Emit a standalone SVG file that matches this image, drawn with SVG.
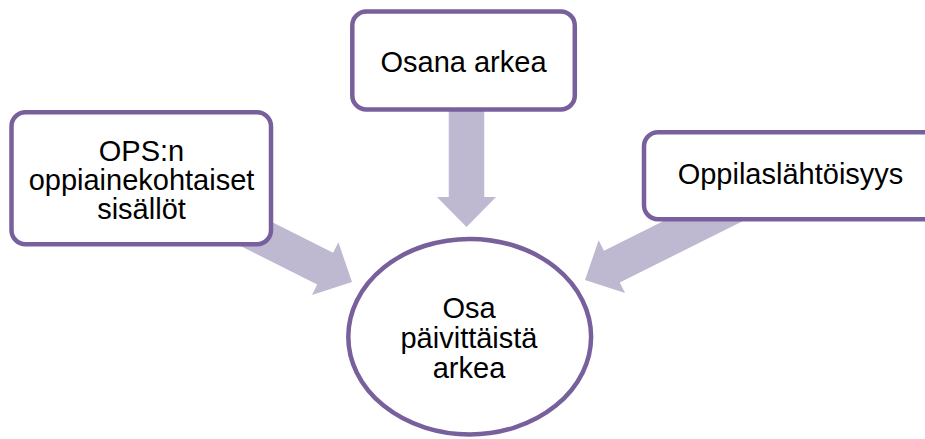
<svg xmlns="http://www.w3.org/2000/svg" width="925" height="439" viewBox="0 0 925 439">
  <defs>
    <style>
      .node { fill: #ffffff; stroke: #78609C; stroke-width: 4.5; }
      .label { font-family: "Liberation Sans", Arial, sans-serif; font-size: 29px; fill: #000000; text-anchor: middle; }
      .flow { fill: #BFB8D1; stroke: none; }
    </style>
    <!-- block arrow pointing along +x, tip at origin -->
    <path id="blockArrow" d="M0,0 L-30,-29.5 L-30,-17.75 L-175,-17.75 L-175,17.75 L-30,17.75 L-30,29.5 Z"/>
  </defs>

  <rect width="925" height="439" fill="#ffffff"/>

  <g id="connectors" class="flow">
    <use href="#blockArrow" transform="translate(466.5,227) rotate(90)"/>
    <use href="#blockArrow" transform="translate(352,282) rotate(26.6)"/>
    <use href="#blockArrow" transform="translate(585,280) rotate(153.5)"/>
  </g>

  <g id="node-ops">
    <rect class="node" x="11.5" y="112.3" width="259.5" height="132" rx="14"/>
    <text class="label" x="141.5" y="161">OPS:n</text>
    <text class="label" x="141.5" y="190">oppiainekohtaiset</text>
    <text class="label" x="141.5" y="219">sisällöt</text>
  </g>

  <g id="node-osana">
    <rect class="node" x="352.3" y="11.5" width="222.5" height="98" rx="14"/>
    <text class="label" x="463.5" y="72">Osana arkea</text>
  </g>

  <g id="node-oppilas">
    <rect class="node" x="644" y="132.3" width="294" height="87" rx="14"/>
    <text class="label" x="790.5" y="184">Oppilaslähtöisyys</text>
  </g>

  <g id="node-center">
    <ellipse class="node" cx="469.7" cy="336.7" rx="121.4" ry="97.8"/>
    <text class="label" x="469" y="318">Osa</text>
    <text class="label" x="469" y="348">päivittäistä</text>
    <text class="label" x="469" y="378">arkea</text>
  </g>
</svg>
